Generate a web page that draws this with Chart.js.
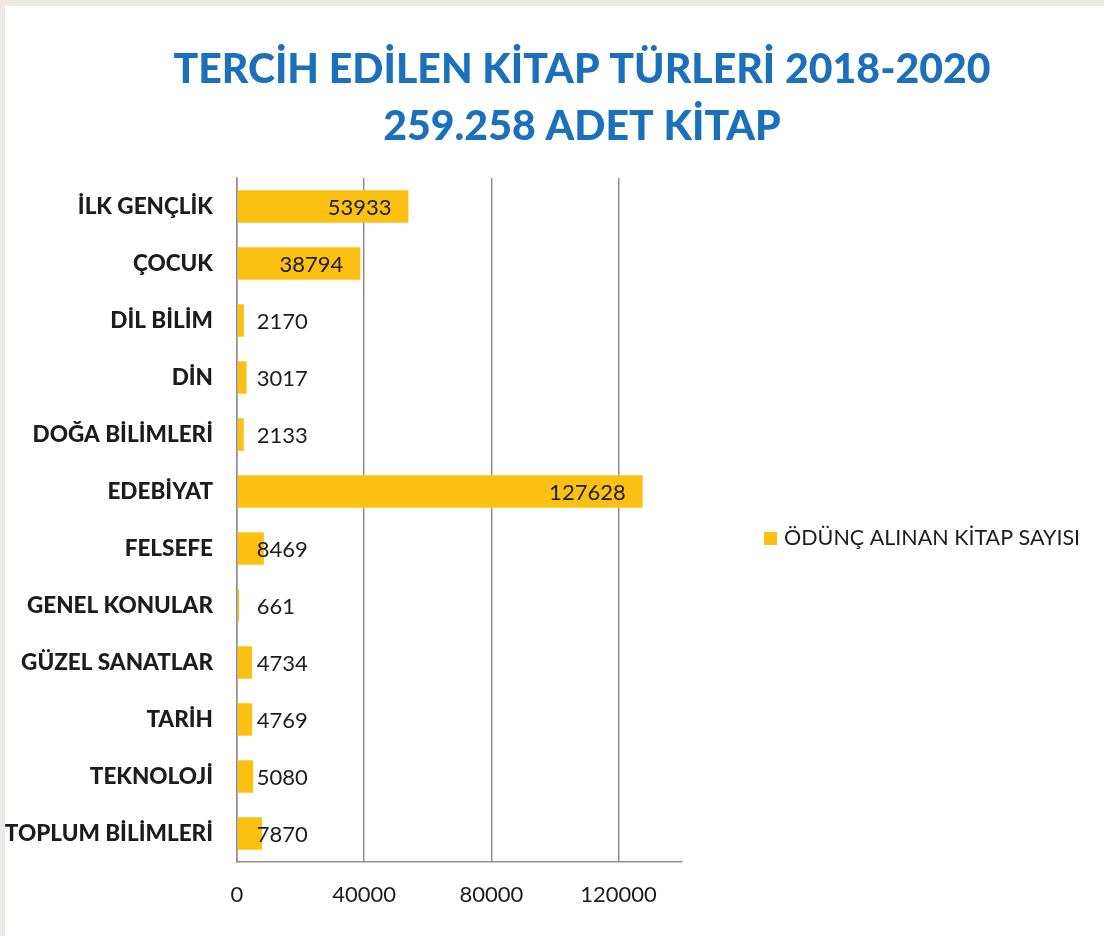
<!DOCTYPE html>
<html lang="tr">
<head>
<meta charset="utf-8">
<title>Tercih Edilen Kitap Türleri</title>
<script src="https://cdn.jsdelivr.net/npm/chart.js@4/dist/chart.umd.min.js"></script>
<style>
  html, body { margin: 0; padding: 0; width: 1104px; height: 936px; background: #efe9e3; overflow: hidden; }
  #panel { position: absolute; left: 5px; top: 6px; width: 1099px; height: 930px; background: #fff; }
  canvas { display: block; }
</style>
</head>
<body>
<div id="panel"><canvas id="kitapChart" width="1099" height="930"></canvas></div>
<script>
const titleLines = ['TERCİH EDİLEN KİTAP TÜRLERİ 2018-2020', '259.258 ADET KİTAP'];
const seriesName = 'ÖDÜNÇ ALINAN KİTAP SAYISI';
const categories = [
  'İLK GENÇLİK', 'ÇOCUK', 'DİL BİLİM', 'DİN', 'DOĞA BİLİMLERİ', 'EDEBİYAT',
  'FELSEFE', 'GENEL KONULAR', 'GÜZEL SANATLAR', 'TARİH', 'TEKNOLOJİ', 'TOPLUM BİLİMLERİ'
];
const borrowed = [53933, 38794, 2170, 3017, 2133, 127628, 8469, 661, 4734, 4769, 5080, 7870];
const xTicks = [0, 40000, 80000, 120000];
const xMax = 140000;

const BAR = '#fcc012';
const INK = '#1c1c1c';
const GRID = '#8f8f8f';
const BLUE = '#1b70bb';
const FONT = 'Lato, "Open Sans", sans-serif';

// title, legend and value labels are painted by hand
const extras = {
  id: 'extras',
  afterDraw(chart) {
    const ctx = chart.ctx;
    ctx.save();

    ctx.fillStyle = BLUE;
    ctx.textAlign = 'center';
    ctx.textBaseline = 'alphabetic';
    ctx.font = '900 41px ' + FONT;
    ctx.fillText(titleLines[0], 577, 77);
    ctx.fillText(titleLines[1], 577, 134);

    // legend on the right
    const ds = chart.data.datasets[0];
    ctx.fillStyle = ds.backgroundColor;
    ctx.fillRect(759, 526, 13, 13);
    ctx.fillStyle = INK;
    ctx.textAlign = 'left';
    ctx.textBaseline = 'middle';
    ctx.font = '21.5px ' + FONT;
    ctx.fillText(ds.label, 779, 532);

    // values next to / inside the bars
    ctx.font = '22px ' + FONT;
    const meta = chart.getDatasetMeta(0);
    meta.data.forEach((bar, i) => {
      const v = ds.data[i];
      if (v > 20000) {
        ctx.textAlign = 'right';
        ctx.fillText(String(v), bar.x - 17, bar.y + 1);
      } else {
        ctx.textAlign = 'left';
        ctx.fillText(String(v), bar.base + 19, bar.y + 1);
      }
    });
    ctx.restore();
  }
};

new Chart(document.getElementById('kitapChart'), {
  type: 'bar',
  data: {
    labels: categories,
    datasets: [{
      label: seriesName,
      data: borrowed,
      backgroundColor: BAR,
      barPercentage: 0.57,
      categoryPercentage: 1.0
    }]
  },
  options: {
    indexAxis: 'y',
    responsive: false,
    animation: false,
    layout: { padding: { top: 172, right: 422, left: 0, bottom: 0 } },
    plugins: {
      legend: { display: false },
      title: { display: false },
      tooltip: { enabled: false }
    },
    scales: {
      x: {
        min: 0,
        max: xMax,
        afterBuildTicks: scale => { scale.ticks = xTicks.map(v => ({ value: v })); },
        afterFit: scale => { scale.height = 74; },
        grid: { color: GRID, lineWidth: 1.5, drawTicks: false },
        border: { color: GRID, width: 1.5 },
        ticks: {
          padding: 20,
          color: INK,
          font: { family: FONT, size: 22 },
          maxRotation: 0,
          callback: v => String(v)
        }
      },
      y: {
        afterFit: scale => { scale.width = 232; },
        grid: { display: false, drawTicks: false },
        border: { color: GRID, width: 1.5 },
        ticks: {
          padding: 24,
          color: INK,
          font: { family: FONT, size: 22.5, weight: '900' }
        }
      }
    }
  },
  plugins: [extras]
});
</script>
</body>
</html>
